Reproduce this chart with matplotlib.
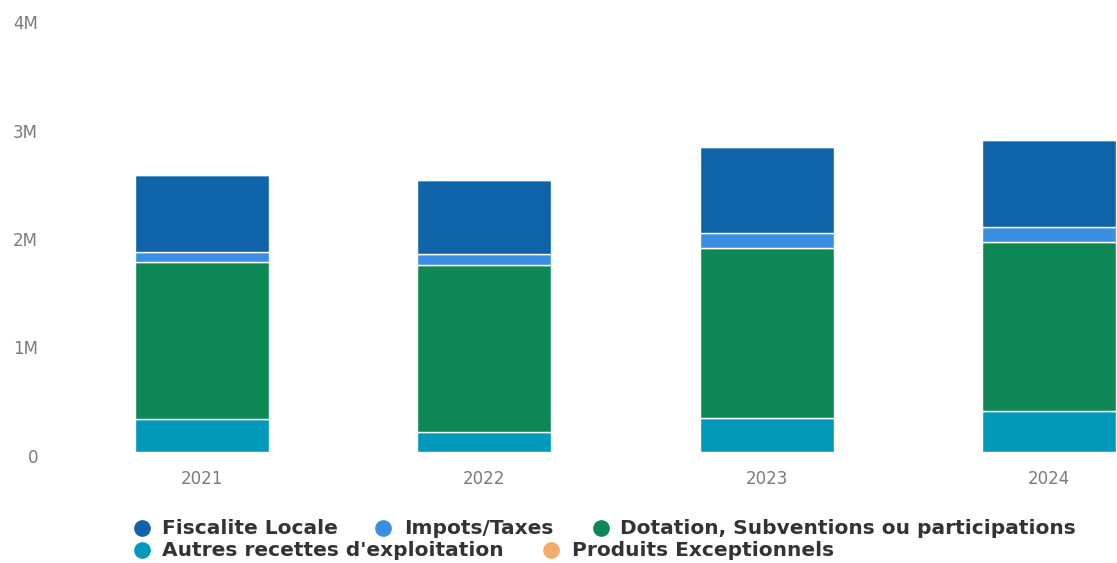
import matplotlib
matplotlib.use("Agg")
import matplotlib.pyplot as plt
import matplotlib.transforms as mtransforms
from matplotlib.lines import Line2D
import numpy as np

years = ["2021", "2022", "2023", "2024"]
series_names = ["Fiscalite Locale", "Impots/Taxes", "Dotation, Subventions ou participations",
                "Autres recettes d'exploitation", "Produits Exceptionnels"]
autres = [0.30e6, 0.18e6, 0.31e6, 0.38e6]
dotation = [1.455e6, 1.545e6, 1.57e6, 1.56e6]
impots = [0.087e6, 0.10e6, 0.14e6, 0.135e6]
fiscalite = [0.71e6, 0.68e6, 0.79e6, 0.80e6]
produits = [0.0, 0.0, 0.0, 0.0]
y_ticks = [0, 1e6, 2e6, 3e6, 4e6]
y_tick_labels = ["0", "1M", "2M", "3M", "4M"]

colors = {
    "Fiscalite Locale": "#0e63a9",
    "Impots/Taxes": "#3b8fe2",
    "Dotation, Subventions ou participations": "#0e8757",
    "Autres recettes d'exploitation": "#0099ba",
    "Produits Exceptionnels": "#f2ad6a",
}

W, H = 1117, 563
fig = plt.figure(figsize=(W / 100, H / 100), dpi=100)
fig.patch.set_facecolor("white")
left = 61 / W
right = 1190 / W
bottom = (H - 452) / H
top = (H - 18) / H
ax = fig.add_axes([left, bottom, right - left, top - bottom])

x = np.arange(len(years))
stack_order = [("Autres recettes d'exploitation", autres),
               ("Dotation, Subventions ou participations", dotation),
               ("Impots/Taxes", impots),
               ("Fiscalite Locale", fiscalite),
               ("Produits Exceptionnels", produits)]
base = np.zeros(len(years))
for name, vals in stack_order:
    v = np.array(vals)
    ax.bar(x, v, bottom=base, width=0.475, color=colors[name],
           edgecolor="white", linewidth=1.0)
    base += v

ax.set_xlim(-0.5, 3.5)
ax.set_ylim(0, 4e6)
ax.set_yticks(y_ticks)
ax.set_yticklabels(y_tick_labels)
ax.set_xticks(x)
ax.set_xticklabels(years)
for s in ax.spines.values():
    s.set_visible(False)
ax.tick_params(axis="y", length=0, pad=16.5, labelsize=12, labelcolor="#7a7a7a")
ax.tick_params(axis="x", length=0, pad=13, labelsize=12, labelcolor="#7a7a7a")
offset = mtransforms.ScaledTranslation(0, -4 / 100, fig.dpi_scale_trans)
for lab in ax.get_yticklabels():
    lab.set_transform(lab.get_transform() + offset)

# legend (Highcharts-style flowing layout)
legend_items = [
    ("Fiscalite Locale", 142, 162, 528),
    ("Impots/Taxes", 383, 404, 528),
    ("Dotation, Subventions ou participations", 601, 620, 528),
    ("Autres recettes d'exploitation", 142, 162, 550),
    ("Produits Exceptionnels", 551, 572, 550),
]
for name, mx, tx, yy in legend_items:
    fy = (H - yy) / H
    fig.add_artist(Line2D([mx / W], [fy], marker="o", markersize=11,
                          color=colors[name], linestyle="none",
                          transform=fig.transFigure))
    fig.text(tx / W, fy, name, fontsize=14.5, fontweight="bold", color="#333333",
             va="center", ha="left")

fig.savefig("out.png", dpi=100)
